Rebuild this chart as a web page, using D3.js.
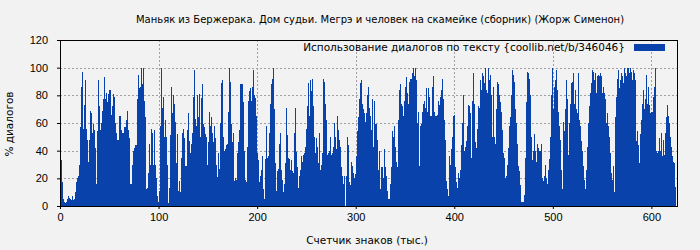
<!DOCTYPE html>
<html>
<head>
<meta charset="utf-8">
<script src="https://cdn.jsdelivr.net/npm/d3@7"></script>
<style>
  body { margin: 0; background: #f2f2f2; }
  svg { display: block; font-family: "DejaVu Sans", sans-serif; }
  .grid line { stroke: #a0a0a0; stroke-dasharray: 2,2; }
  .axis text { font-size: 11px; fill: #000; }
</style>
</head>
<body>
<svg width="700" height="250"></svg>
<script>
const title = "Маньяк из Бержерака. Дом судьи. Мегрэ и человек на скамейке (сборник) (Жорж Сименон)";
const legendLabel = "Использование диалогов по тексту {coollib.net/b/346046}";
const xLabel = "Счетчик знаков (тыс.)";
const yLabel = "% диалогов";

const xTicks = [0, 100, 200, 300, 400, 500, 600];
const yTicks = [0, 20, 40, 60, 80, 100, 120];
const xMax = 627;

// % of dialogue per 1000 characters
const part1 = [
  26,30,33,17,5,3,2,3,5,7, 6,5,4,7,4,5,10,17,20,22,
  30,57,86,97,56,73,91,56,48,32, 48,69,67,53,59,55,42,16,54,91,
  72,55,60,69,77,93,77,82,75,81, 84,84,66,72,81,79,60,53,48,48,
  65,65,55,53,53,57,57,62,69,55, 49,49,16,16,30,40,42,44,44,77,
  95,85,86,100,88,100,76,64,12,13, 24,45,30,56,53,30,55,30,20,7,
  3,11,58,100,71,79,50,62,50,30, 2,13,51,86,67,80,74,61,31,52,
  11,18,10,35,53,56,49,29,29,55, 67,47,38,45,53,79,98,63,58,74
];
const part2 = [
  80,64,81,50,78,88,59,57,52,50, 30,46,68,58,64,53,46,58,49,30,
  21,38,27,60,89,91,50,40,41,44, 45,68,100,90,59,46,53,18,20,19,
  38,46,55,88,88,88,75,40,19,17, 43,76,83,85,76,86,98,80,78,65,
  38,33,17,22,26,36,12,5,34,58, 34,35,36,53,74,88,92,100,70,31,
  11,25,27,45,53,26,19,10,16,31, 71,51,35,34,26,33,25,24,53,71,
  39,28,13,22,26,36,32,37,38,43, 56,72,89,65,91,83,92,72,50,38,
  49,43,31,53,26,30,38,92,90,74, 62,37,38,40,50,37,38,43,60,58
];
const part3 = [
  50,41,65,55,48,43,28,22,16,22, 0,22,50,44,17,15,32,29,24,20,
  23,36,54,64,77,89,91,74,70,67, 61,67,80,86,71,65,55,77,43,76,
  59,59,48,26,40,12,28,28,20,41, 28,22,11,5,5,16,28,54,50,58,
  43,32,28,62,84,88,74,72,60,65, 76,86,93,82,74,90,92,92,96,100,
  94,100,91,60,68,29,58,59,68,74, 76,71,85,68,85,79,65,65,86,94,
  68,65,65,66,76,73,79,84,92,77, 62,48,18,12,7,36,30,41,50,65,
  66,28,17,13,24,20,26,44,60,80, 40,43,47,58,73,72,67,35,48,76
];
const part4 = [
  96,74,46,42,56,72,71,91,84,96, 94,89,100,84,82,100,91,95,80,50,
  86,50,45,70,90,88,80,75,68,55, 38,35,20,22,30,42,58,64,80,98,
  95,90,70,60,45,29,25,15,3,3, 3,8,35,75,97,96,92,80,50,33,
  40,52,40,32,45,42,40,32,40,45, 20,18,22,30,20,16,26,34,50,80,
  100,70,86,91,98,84,68,58,48,26, 12,61,54,70,91,77,37,60,74,89,
  90,96,74,84,70,67,96,62,58,47, 40,29,19,12,26,43,60,72,82,89,
  98,97,91,96,82,94,95,94,96,94, 82,86,82,77,60,67,58,50,43,38
];
const part5 = [
  24,19,29,10,64,79,92,98,85,91, 96,94,89,100,96,94,100,100,96,100,
  97,91,98,96,91,47,54,44,31,52, 62,74,84,70,77,95,74,86,73,67,
  68,68,79,86,100,40,38,40,49,40, 53,36,48,37,53,64,73,65,60,50,
  43,36,32,31,14
];
const values = [...part1, ...part2, ...part3, ...part4, ...part5];
const bars = values.map((v, i) => ({ k: i, v }));

const margin = { top: 40, right: 22, bottom: 44, left: 60 },
      width = 700 - margin.left - margin.right,
      height = 250 - margin.top - margin.bottom;

const svgRoot = d3.select("svg");
svgRoot.append("rect").attr("width", 700).attr("height", 250).attr("fill", "#f2f2f2");

const svg = svgRoot.append("g")
  .attr("transform", `translate(${margin.left},${margin.top})`);

const x = d3.scaleLinear().domain([0, xMax]).range([0, width]);
const y = d3.scaleLinear().domain([0, 120]).range([height, 0]);

// grid
svg.append("g").attr("class", "grid")
  .selectAll("line")
  .data(yTicks.filter(t => t > 0 && t < 120))
  .enter().append("line")
  .attr("x1", 0).attr("x2", width)
  .attr("y1", d => Math.round(y(d)) + 0.5).attr("y2", d => Math.round(y(d)) + 0.5);

svg.append("g").attr("class", "grid")
  .selectAll("line")
  .data(xTicks.filter(t => t > 0))
  .enter().append("line")
  .attr("y1", 0).attr("y2", height)
  .attr("x1", d => Math.round(x(d)) + 0.5).attr("x2", d => Math.round(x(d)) + 0.5);

// bars, snapped to whole pixels
svg.append("g")
  .attr("shape-rendering", "crispEdges")
  .selectAll("rect")
  .data(bars)
  .enter().append("rect")
  .attr("x", d => Math.floor(x(d.k)))
  .attr("width", d => Math.max(1, Math.floor(x(d.k + 1)) - Math.floor(x(d.k))))
  .attr("y", d => y(d.v))
  .attr("height", d => height - y(d.v))
  .attr("fill", "#0a42ab");

// axes
svg.append("g")
  .attr("class", "axis")
  .attr("transform", `translate(0,${height})`)
  .call(d3.axisBottom(x).tickValues(xTicks).tickSize(3).tickPadding(4).tickFormat(d3.format("d")))
  .call(g => g.select(".domain").remove());

svg.append("g")
  .attr("class", "axis")
  .call(d3.axisLeft(y).tickValues(yTicks).tickSize(3).tickPadding(9).tickFormat(d3.format("d")))
  .call(g => g.select(".domain").remove());

svg.append("rect")
  .attr("x", 0.5).attr("y", 0.5)
  .attr("width", width - 1).attr("height", height)
  .attr("fill", "none")
  .attr("stroke", "#000")
  .attr("stroke-width", 1);

// legend
svg.append("text")
  .attr("x", 565).attr("y", 11)
  .attr("text-anchor", "end")
  .attr("font-size", 10.5)
  .text(legendLabel);

svg.append("rect")
  .attr("x", 574).attr("y", 4)
  .attr("width", 31).attr("height", 7)
  .attr("fill", "#0a42ab");

// titles
svgRoot.append("text")
  .attr("x", 380).attr("y", 23)
  .attr("text-anchor", "middle")
  .attr("font-size", 10)
  .text(title);

svgRoot.append("text")
  .attr("x", 367).attr("y", 244)
  .attr("text-anchor", "middle")
  .attr("font-size", 10.5)
  .text(xLabel);

svgRoot.append("text")
  .attr("transform", "translate(13,124) rotate(-90)")
  .attr("text-anchor", "middle")
  .attr("font-size", 10.5)
  .text(yLabel);
</script>
</body>
</html>
